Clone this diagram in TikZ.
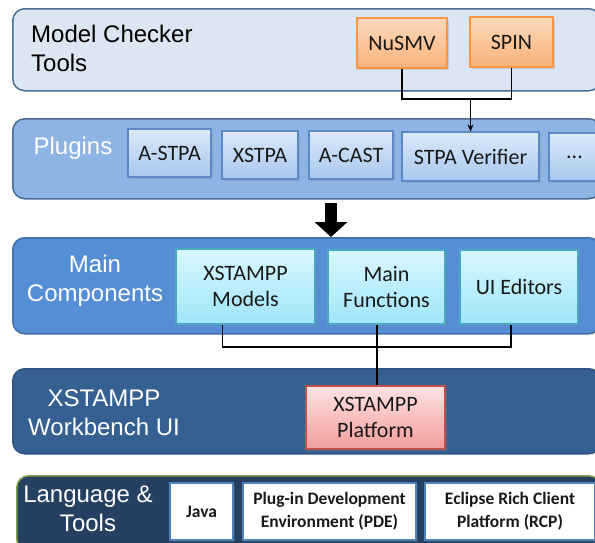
\documentclass[tikz,border=0pt]{standalone}
\usepackage{fontspec}
\setmainfont{Liberation Sans}
\newfontfamily\boxfont{Carlito}
\usetikzlibrary{arrows.meta,shadows}
\definecolor{bandA}{HTML}{DCE6F2}
\definecolor{bandAline}{HTML}{4A6E96}
\definecolor{bandB}{HTML}{8EB4E3}
\definecolor{bandBline}{HTML}{4A6C94}
\definecolor{bandC}{HTML}{558ED5}
\definecolor{bandCline}{HTML}{3F6DA5}
\definecolor{bandD}{HTML}{376092}
\definecolor{bandDline}{HTML}{2F5280}
\definecolor{bandE}{HTML}{254061}
\definecolor{bandEline}{HTML}{7F9F4F}
\definecolor{orT}{HTML}{FCD9BC}
\definecolor{orB}{HTML}{F9B27A}
\definecolor{orL}{HTML}{F79646}
\definecolor{plT}{HTML}{DCE9FA}
\definecolor{plB}{HTML}{A8C7EE}
\definecolor{plL}{HTML}{5B8AC6}
\definecolor{cyT}{HTML}{D8F7FD}
\definecolor{cyB}{HTML}{9FE5FA}
\definecolor{cyL}{HTML}{48A9C5}
\definecolor{pkT}{HTML}{FFE3E3}
\definecolor{pkB}{HTML}{F29C9C}
\definecolor{pkL}{HTML}{C0504D}
\definecolor{whL}{HTML}{4F81BD}
\tikzset{
  band/.style={rounded corners=12pt, line width=1.5pt, anchor=north west, inner sep=0pt},
  bandlabel/.style={font=\fontsize{24}{29}\selectfont, align=center, inner sep=0pt},
  comp/.style={rectangle, line width=1.2pt, inner sep=0pt, align=center,
    font=\boxfont\fontsize{22}{26}\selectfont, text=black!90,
    drop shadow={shadow xshift=2pt, shadow yshift=-2pt, opacity=0.25}},
  orbox/.style={comp, draw=orL, top color=orT, bottom color=orB},
  plbox/.style={comp, draw=plL, top color=plT, bottom color=plB},
  cybox/.style={comp, draw=cyL, top color=cyT, bottom color=cyB},
  pkbox/.style={comp, draw=pkL, top color=pkT, bottom color=pkB},
  whbox/.style={comp, draw=whL, fill=white, line width=1.5pt,
    font=\boxfont\bfseries\fontsize{17.5}{23}\selectfont},
  conn/.style={line width=1.6pt, draw=black}
}
\begin{document}
\begin{tikzpicture}[x=1pt,y=-1pt]
\useasboundingbox (0,0) rectangle (595,542);
\fill[white] (0,0) rectangle (595,542);
% bands
\node[band, draw=bandAline, fill=bandA, minimum width=588pt, minimum height=82pt] (b1) at (12,8) {};
\node[band, draw=bandBline, fill=bandB, minimum width=588pt, minimum height=80pt] (b2) at (12,118) {};
\node[band, draw=bandCline, fill=bandC, minimum width=588pt, minimum height=96pt] (b3) at (12,237) {};
\node[band, draw=bandDline, fill=bandD, minimum width=588pt, minimum height=85pt] (b4) at (12,368) {};
\node[band, draw=bandEline, fill=bandE, minimum width=584pt, minimum height=75pt] (b5) at (16,475) {};
% band labels
\node[bandlabel, align=left, anchor=west, text=black] (l1) at (31,48) {Model Checker\\Tools};
\node[bandlabel, text=white] (l2) at (73,148) {Plugins};
\node[bandlabel, text=white] (l3) at (95,281) {Main\\Components};
\node[bandlabel, text=white] (l4) at (104,413) {XSTAMPP\\Workbench UI};
\node[bandlabel, text=white] (l5) at (88,509) {Language \&\\Tools};
% model checkers
\node[orbox, minimum width=90pt, minimum height=50pt] (nusmv) at (402,43) {NuSMV};
\node[orbox, minimum width=83pt, minimum height=50pt] (spin) at (511.5,42) {SPIN};
% plugins
\node[plbox, minimum width=83pt, minimum height=48pt] (astpa) at (169.5,153) {A-STPA};
\node[plbox, minimum width=76pt, minimum height=48pt] (xstpa) at (260,155) {XSTPA};
\node[plbox, minimum width=84pt, minimum height=48pt] (acast) at (351,155) {A-CAST};
\node[plbox, minimum width=137pt, minimum height=49pt] (verif) at (470.5,156.5) {STPA Verifier};
\node[plbox, minimum width=51pt, minimum height=48pt] (more) at (574.5,157) {...};
% main components
\node[cybox, minimum width=139pt, minimum height=75pt] (models) at (245.5,286.5) {XSTAMPP\\Models};
\node[cybox, minimum width=117pt, minimum height=74pt] (mainf) at (386.5,287) {Main\\Functions};
\node[cybox, minimum width=118pt, minimum height=74pt] (uied) at (519,287) {UI Editors};
% platform
\node[pkbox, minimum width=139pt, minimum height=63pt] (platform) at (375.5,417.5) {XSTAMPP\\Platform};
% language & tools
\node[whbox, minimum width=63pt, minimum height=57pt] (java) at (201.5,511.5) {Java};
\node[whbox, minimum width=173pt, minimum height=57pt] (pde) at (329.5,511.5) {Plug-in Development\\Environment (PDE)};
\node[whbox, minimum width=170pt, minimum height=57pt] (rcp) at (510,511.5) {Eclipse Rich Client\\Platform (RCP)};
% connectors top
\coordinate (j1) at (470.5,99);
\draw[conn] (nusmv.south) |- (j1) -| (spin.south);
\draw[conn, -{Stealth[length=7pt,width=6pt]}] (j1) -- (verif.north);
% thick arrow
\coordinate (t1) at (331,203);
\draw[line width=12pt, -{Triangle[length=15pt,width=32pt]}] (t1) -- (b3.north -| t1);
% connectors bottom
\coordinate (j2) at (377,347);
\draw[conn] ([xshift=-23pt]models.south) |- (j2) -| ([xshift=-8pt]uied.south);
\draw[conn] (mainf.south -| j2) -- (platform.north -| j2);
\end{tikzpicture}
\end{document}
